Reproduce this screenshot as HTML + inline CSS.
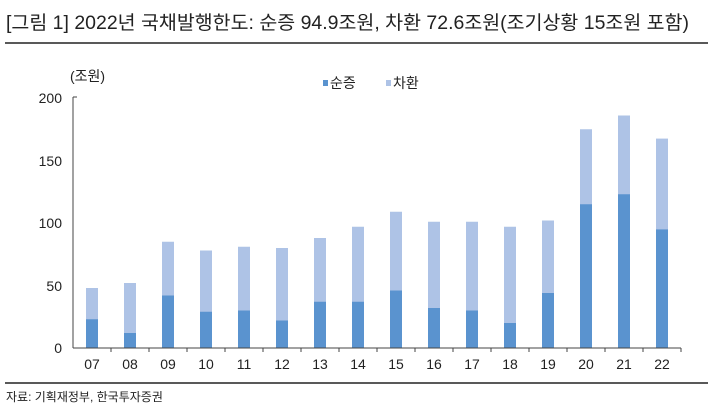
<!DOCTYPE html><html><head><meta charset="utf-8"><style>body{margin:0;background:#fff}svg{display:block}text{font-family:"Liberation Sans","Noto Sans CJK KR",sans-serif;fill:#222}</style></head><body>
<svg width="716" height="410" xmlns="http://www.w3.org/2000/svg">
<text x="6" y="29" font-size="19" textLength="683" lengthAdjust="spacingAndGlyphs">[그림 1] 2022년 국채발행한도: 순증 94.9조원, 차환 72.6조원(조기상황 15조원 포함)</text>
<line x1="5" y1="43" x2="708" y2="43" stroke="#222" stroke-width="1.5"/>
<text x="70" y="81" font-size="14">(조원)</text>
<rect x="323" y="80" width="5" height="6" fill="#5a93cf"/><text x="330" y="88" font-size="14">순증</text>
<rect x="386" y="80" width="5" height="6" fill="#aec3e6"/><text x="393" y="88" font-size="14">차환</text>
<g font-size="14" text-anchor="end">
<text x="62" y="103">200</text><text x="62" y="166">150</text><text x="62" y="228">100</text><text x="62" y="291">50</text><text x="62" y="353">0</text>
</g>
<g fill="#aec3e6">
<rect x="86" y="288" width="12" height="60"/>
<rect x="124" y="283" width="12" height="65"/>
<rect x="162" y="241.75" width="12" height="106.25"/>
<rect x="200" y="250.5" width="12" height="97.5"/>
<rect x="238" y="246.75" width="12" height="101.25"/>
<rect x="276" y="248" width="12" height="100"/>
<rect x="314" y="238" width="12" height="110"/>
<rect x="352" y="226.75" width="12" height="121.25"/>
<rect x="390" y="211.75" width="12" height="136.25"/>
<rect x="428" y="221.75" width="12" height="126.25"/>
<rect x="466" y="221.75" width="12" height="126.25"/>
<rect x="504" y="226.75" width="12" height="121.25"/>
<rect x="542" y="220.5" width="12" height="127.5"/>
<rect x="580" y="129.25" width="12" height="218.75"/>
<rect x="618" y="115.5" width="12" height="232.5"/>
<rect x="656" y="138.6" width="12" height="209.4"/>
</g>
<g fill="#5a93cf">
<rect x="86" y="319.25" width="12" height="28.75"/>
<rect x="124" y="333" width="12" height="15"/>
<rect x="162" y="295.5" width="12" height="52.5"/>
<rect x="200" y="311.75" width="12" height="36.25"/>
<rect x="238" y="310.5" width="12" height="37.5"/>
<rect x="276" y="320.5" width="12" height="27.5"/>
<rect x="314" y="301.75" width="12" height="46.25"/>
<rect x="352" y="301.75" width="12" height="46.25"/>
<rect x="390" y="290.5" width="12" height="57.5"/>
<rect x="428" y="308" width="12" height="40"/>
<rect x="466" y="310.5" width="12" height="37.5"/>
<rect x="504" y="323" width="12" height="25"/>
<rect x="542" y="293" width="12" height="55"/>
<rect x="580" y="204.25" width="12" height="143.75"/>
<rect x="618" y="194.25" width="12" height="153.75"/>
<rect x="656" y="229.4" width="12" height="118.6"/>
</g>
<line x1="73" y1="97" x2="73" y2="348" stroke="#444"/>
<line x1="73" y1="97" x2="77" y2="97" stroke="#444"/>
<line x1="73" y1="348" x2="681" y2="348" stroke="#444"/>
<path d="M111 348v4M149 348v4M187 348v4M225 348v4M263 348v4M301 348v4M339 348v4M377 348v4M415 348v4M453 348v4M491 348v4M529 348v4M567 348v4M605 348v4M643 348v4M681 348v4" stroke="#444"/>
<g font-size="14" text-anchor="middle">
<text x="92" y="369">07</text><text x="130" y="369">08</text><text x="168" y="369">09</text><text x="206" y="369">10</text><text x="244" y="369">11</text><text x="282" y="369">12</text><text x="320" y="369">13</text><text x="358" y="369">14</text><text x="396" y="369">15</text><text x="434" y="369">16</text><text x="472" y="369">17</text><text x="510" y="369">18</text><text x="548" y="369">19</text><text x="586" y="369">20</text><text x="624" y="369">21</text><text x="662" y="369">22</text>
</g>
<line x1="5" y1="383" x2="708" y2="383" stroke="#222" stroke-width="1.5"/>
<text x="6" y="401" font-size="12">자료: 기획재정부, 한국투자증권</text>
</svg></body></html>
